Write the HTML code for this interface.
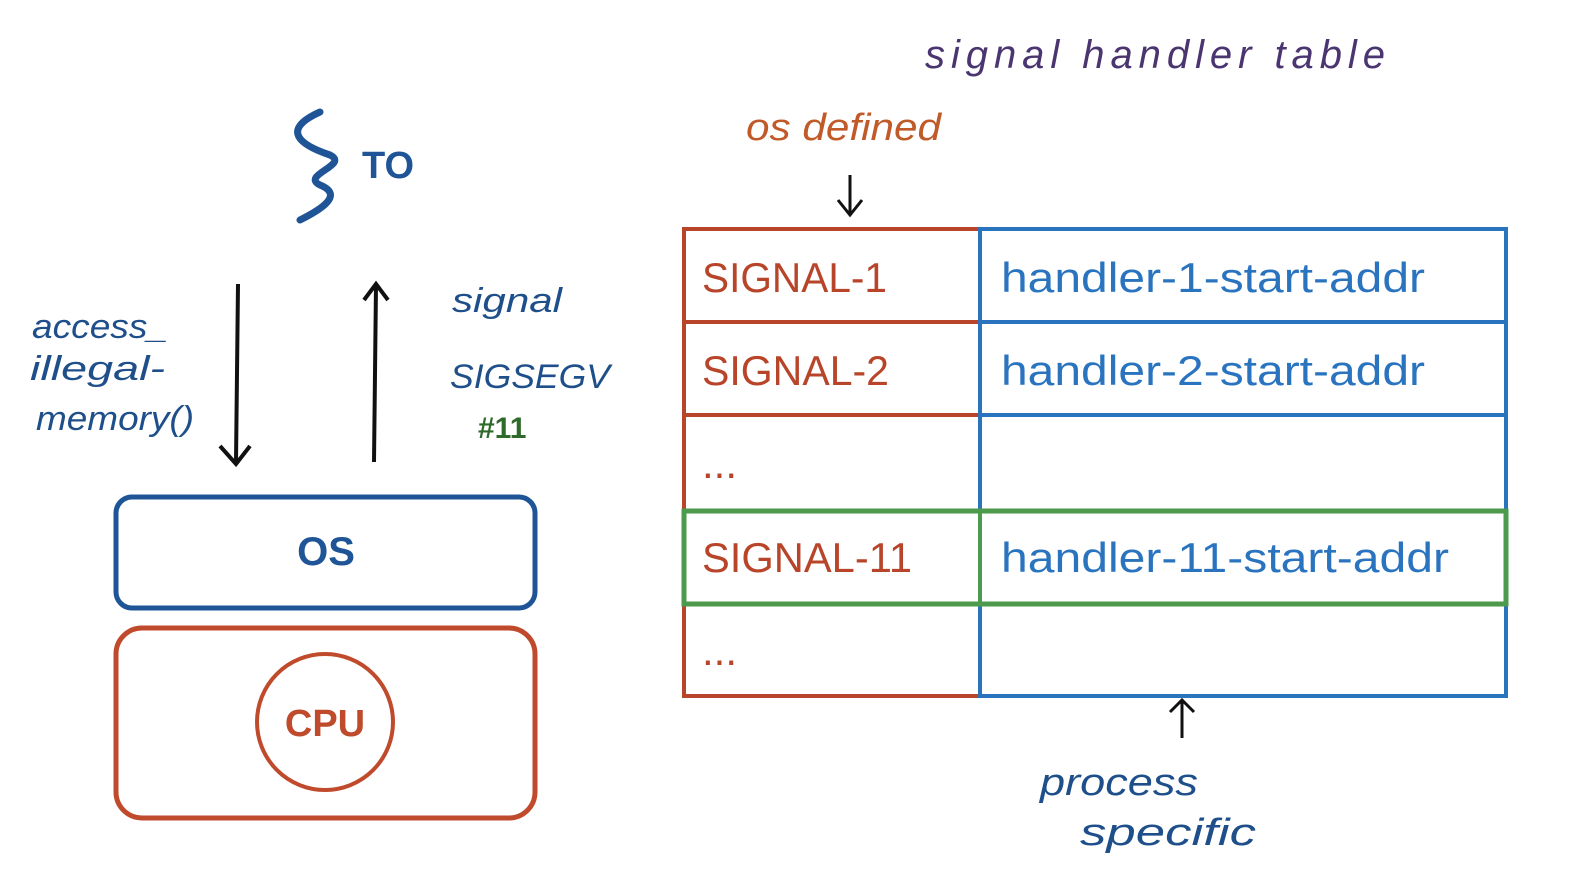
<!DOCTYPE html>
<html><head><meta charset="utf-8"><style>
html,body{margin:0;padding:0;background:#fff;}
svg{display:block}
.h{font-family:"Liberation Sans",sans-serif;}
</style></head><body>
<svg width="1580" height="889" viewBox="0 0 1580 889" xmlns="http://www.w3.org/2000/svg">
<g class="h">
<text x="925" y="68" font-size="40" fill="#4a3570" font-style="italic" textLength="460" lengthAdjust="spacing">signal  handler  table</text>
<text x="746" y="140" font-size="38" fill="#c05a28" font-style="italic" textLength="195" lengthAdjust="spacingAndGlyphs">os defined</text>
</g>
<path d="M850 175 L850 215 M838 200 L850 215 L862 200" stroke="#111" stroke-width="3" fill="none"/>
<g fill="none" stroke-width="4">
<rect x="684" y="229" width="296" height="467" stroke="#b8452a"/>
<line x1="684" y1="322" x2="980" y2="322" stroke="#b8452a"/>
<line x1="684" y1="415" x2="980" y2="415" stroke="#b8452a"/>
<rect x="980" y="229" width="526" height="467" stroke="#2a74bf"/>
<line x1="980" y1="322" x2="1506" y2="322" stroke="#2a74bf"/>
<line x1="980" y1="415" x2="1506" y2="415" stroke="#2a74bf"/>
<rect x="684" y="511" width="822" height="93" stroke="#4c9a4c" stroke-width="5"/>
<line x1="980" y1="511" x2="980" y2="604" stroke="#4c9a4c"/>
</g>
<g class="h" font-size="42">
<text x="702" y="292" fill="#b8452a" textLength="185" lengthAdjust="spacingAndGlyphs">SIGNAL-1</text>
<text x="702" y="385" fill="#b8452a" textLength="187" lengthAdjust="spacingAndGlyphs">SIGNAL-2</text>
<text x="702" y="572" fill="#b8452a" textLength="210" lengthAdjust="spacingAndGlyphs">SIGNAL-11</text>
<text x="702" y="478" fill="#b8452a">...</text>
<text x="702" y="665" fill="#b8452a">...</text>
<text x="1001" y="292" fill="#2a74bf" textLength="424" lengthAdjust="spacingAndGlyphs">handler-1-start-addr</text>
<text x="1001" y="385" fill="#2a74bf" textLength="424" lengthAdjust="spacingAndGlyphs">handler-2-start-addr</text>
<text x="1001" y="572" fill="#2a74bf" textLength="448" lengthAdjust="spacingAndGlyphs">handler-11-start-addr</text>
</g>
<path d="M1182 738 L1182 700 M1170 712 L1182 700 L1194 712" stroke="#111" stroke-width="3" fill="none"/>
<g class="h" font-size="38" fill="#1f4f8a" font-style="italic">
<text x="1040" y="795" textLength="158" lengthAdjust="spacingAndGlyphs">process</text>
<text x="1080" y="845" textLength="176" lengthAdjust="spacingAndGlyphs">specific</text>
</g>
<path d="M320 112 C280 130,300 145,330 155 C350 165,300 175,320 185 C345 195,320 210,300 220" stroke="#1f5597" stroke-width="7" fill="none" stroke-linecap="round"/>
<text x="362" y="178" class="h" font-size="38" font-weight="bold" fill="#1f5597">TO</text>
<path d="M238 284 L236 462 M220 446 L236 464 L250 446" stroke="#111" stroke-width="4" fill="none"/>
<path d="M374 462 L376 285 M364 300 L376 284 L388 300" stroke="#111" stroke-width="4" fill="none"/>
<g class="h" font-size="34" fill="#1f4f8a" font-style="italic">
<text x="32" y="338" textLength="136" lengthAdjust="spacingAndGlyphs">access_</text>
<text x="30" y="380" textLength="135" lengthAdjust="spacingAndGlyphs">illegal-</text>
<text x="36" y="430" textLength="158" lengthAdjust="spacingAndGlyphs">memory()</text>
<text x="452" y="312" textLength="110" lengthAdjust="spacingAndGlyphs">signal</text>
<text x="450" y="388" textLength="160" lengthAdjust="spacingAndGlyphs">SIGSEGV</text>
</g>
<text x="478" y="438" class="h" font-size="30" fill="#2e6a2a" font-weight="bold">#11</text>
<rect x="116" y="497" width="419" height="111" rx="16" fill="none" stroke="#1f5597" stroke-width="5"/>
<text x="326" y="565" class="h" font-size="40" font-weight="bold" fill="#1f5597" text-anchor="middle">OS</text>
<rect x="116" y="628" width="419" height="190" rx="26" fill="none" stroke="#c04a2c" stroke-width="5"/>
<circle cx="325" cy="722" r="68" fill="none" stroke="#c04a2c" stroke-width="4"/>
<text x="325" y="736" class="h" font-size="38" font-weight="bold" fill="#c04a2c" text-anchor="middle">CPU</text>
</svg>
</body></html>
